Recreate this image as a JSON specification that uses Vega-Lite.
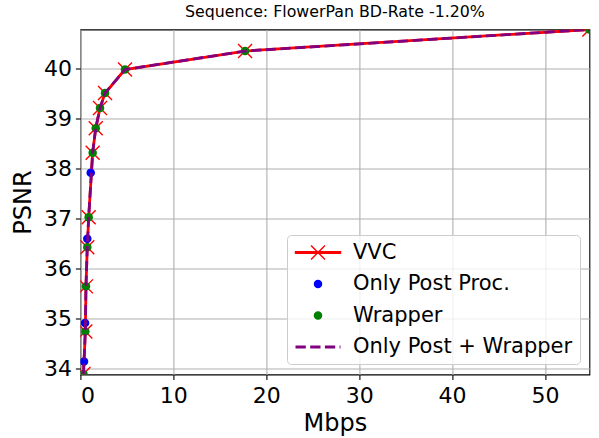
{
  "$schema": "https://vega.github.io/schema/vega-lite/v6.json",
  "width": 509,
  "height": 345,
  "autosize": "none",
  "padding": {"left": 80.4, "top": 29.5, "right": 9.6, "bottom": 63.5},
  "title": {"text": "Sequence: FlowerPan BD-Rate -1.20%", "font": "DejaVu Sans", "fontSize": 15.8, "fontWeight": "normal", "color": "black", "anchor": "middle", "offset": 9},
  "config": {
    "font": "DejaVu Sans",
    "view": {"stroke": "black", "strokeWidth": 1.1},
    "axis": {"labelFont": "DejaVu Sans", "labelFontSize": 22, "labelColor": "black", "titleFont": "DejaVu Sans", "titleFontSize": 24, "titleFontWeight": "normal", "titleColor": "black", "tickColor": "black", "tickSize": 5, "tickWidth": 1.1, "domain": false, "grid": true, "gridColor": "#b0b0b0", "gridWidth": 1.1, "labelPadding": 4}
  },
  "datasets": {
    "vvc": [
      {"series": "VVC", "mbps": 0.33, "psnr": 33.9},
      {"series": "VVC", "mbps": 0.53, "psnr": 34.75},
      {"series": "VVC", "mbps": 0.6, "psnr": 35.65},
      {"series": "VVC", "mbps": 0.74, "psnr": 36.43},
      {"series": "VVC", "mbps": 0.89, "psnr": 37.03},
      {"series": "VVC", "mbps": 1.32, "psnr": 38.32},
      {"series": "VVC", "mbps": 1.65, "psnr": 38.81},
      {"series": "VVC", "mbps": 2.11, "psnr": 39.21},
      {"series": "VVC", "mbps": 2.65, "psnr": 39.51},
      {"series": "VVC", "mbps": 4.8, "psnr": 39.98},
      {"series": "VVC", "mbps": 17.72, "psnr": 40.35},
      {"series": "VVC", "mbps": 54.78, "psnr": 40.78}
    ],
    "post": [
      {"series": "Only Post Proc.", "mbps": 0.39, "psnr": 34.15},
      {"series": "Only Post Proc.", "mbps": 0.5, "psnr": 34.92},
      {"series": "Only Post Proc.", "mbps": 0.74, "psnr": 36.6},
      {"series": "Only Post Proc.", "mbps": 1.11, "psnr": 37.92}
    ],
    "wrapper": [
      {"series": "Wrapper", "mbps": 0.33, "psnr": 33.9},
      {"series": "Wrapper", "mbps": 0.53, "psnr": 34.75},
      {"series": "Wrapper", "mbps": 0.6, "psnr": 35.65},
      {"series": "Wrapper", "mbps": 0.74, "psnr": 36.43},
      {"series": "Wrapper", "mbps": 0.89, "psnr": 37.03},
      {"series": "Wrapper", "mbps": 1.32, "psnr": 38.32},
      {"series": "Wrapper", "mbps": 1.65, "psnr": 38.81},
      {"series": "Wrapper", "mbps": 2.11, "psnr": 39.21},
      {"series": "Wrapper", "mbps": 2.65, "psnr": 39.51},
      {"series": "Wrapper", "mbps": 4.8, "psnr": 39.98},
      {"series": "Wrapper", "mbps": 17.72, "psnr": 40.35},
      {"series": "Wrapper", "mbps": 54.78, "psnr": 40.78}
    ],
    "both": [
      {"series": "Only Post + Wrapper", "mbps": 0.33, "psnr": 33.9},
      {"series": "Only Post + Wrapper", "mbps": 0.53, "psnr": 34.75},
      {"series": "Only Post + Wrapper", "mbps": 0.6, "psnr": 35.65},
      {"series": "Only Post + Wrapper", "mbps": 0.74, "psnr": 36.43},
      {"series": "Only Post + Wrapper", "mbps": 0.89, "psnr": 37.03},
      {"series": "Only Post + Wrapper", "mbps": 1.32, "psnr": 38.32},
      {"series": "Only Post + Wrapper", "mbps": 1.65, "psnr": 38.81},
      {"series": "Only Post + Wrapper", "mbps": 2.11, "psnr": 39.21},
      {"series": "Only Post + Wrapper", "mbps": 2.65, "psnr": 39.51},
      {"series": "Only Post + Wrapper", "mbps": 4.8, "psnr": 39.98},
      {"series": "Only Post + Wrapper", "mbps": 17.72, "psnr": 40.35},
      {"series": "Only Post + Wrapper", "mbps": 54.78, "psnr": 40.78}
    ]
  },
  "encoding": {
    "x": {"field": "mbps", "type": "quantitative", "scale": {"domain": [0, 54.78], "nice": false, "zero": false}, "axis": {"values": [0, 10, 20, 30, 40, 50], "title": "Mbps", "labelPadding": 6, "titlePadding": 5}},
    "y": {"field": "psnr", "type": "quantitative", "scale": {"domain": [33.89, 40.78], "nice": false, "zero": false}, "axis": {"values": [34, 35, 36, 37, 38, 39, 40], "title": "PSNR", "titlePadding": 8}}
  },
  "layer": [
    {
      "data": {"name": "vvc"},
      "mark": {"type": "line", "strokeWidth": 2.8, "clip": true},
      "encoding": {
        "color": {
          "field": "series", "type": "nominal",
          "scale": {"domain": ["VVC", "Only Post Proc.", "Wrapper", "Only Post + Wrapper"], "range": ["#ff0000", "#0000ff", "#008000", "#800080"]},
          "legend": {
            "orient": "none", "legendX": 206.6, "legendY": 205.5, "title": null,
            "symbolSize": 506, "symbolOffset": 13.5, "labelOffset": 24.4,
            "labelFont": "DejaVu Sans", "labelFontSize": 21, "labelColor": "black", "labelLimit": 400,
            "padding": 7, "rowPadding": 9.5,
            "fillColor": "rgba(255,255,255,0.8)", "strokeColor": "#cccccc", "cornerRadius": 4,
            "encode": {
              "symbols": {
                "update": {
                  "shape": {"signal": "datum.value === 'VVC' ? 'M-2,-0.062L2,-0.062L2,0.062L-2,0.062Z M-0.62,-0.62L0.62,0.62M-0.62,0.62L0.62,-0.62' : datum.value === 'Only Post + Wrapper' ? 'M-2,-0.124L-1.084,-0.124L-1.084,0.124L-2,0.124Z M-0.693,-0.124L0.222,-0.124L0.222,0.124L-0.693,0.124Z M0.613,-0.124L1.529,-0.124L1.529,0.124L0.613,0.124Z M1.92,-0.124L2,-0.124L2,0.124L1.92,0.124Z' : 'M-0.378,0A0.378,0.378,0,1,1,0.378,0A0.378,0.378,0,1,1,-0.378,0Z'"},
                  "fill": {"signal": "datum.value === 'VVC' ? '#ff0000' : datum.value === 'Only Post Proc.' ? '#0000ff' : datum.value === 'Wrapper' ? '#008000' : '#800080'"},
                  "stroke": {"signal": "datum.value === 'VVC' ? '#ff0000' : 'transparent'"},
                  "strokeWidth": {"signal": "datum.value === 'VVC' ? 1.4 : 0"},
                  "size": {"value": 506},
                  "y": {"value": 10.5},
                  "opacity": {"value": 1}
                }
              },
              "labels": {
                "update": {
                  "y": {"value": 10.5}
                }
              }
            }
          }
        }
      }
    },
    {
      "data": {"name": "vvc"},
      "mark": {"type": "point", "shape": "M-1,-1L1,1M-1,1L1,-1", "filled": false, "color": "#ff0000", "strokeWidth": 1.4, "size": 196, "opacity": 1, "clip": true}
    },
    {
      "data": {"name": "post"},
      "mark": {"type": "point", "shape": "circle", "filled": true, "color": "#0000ff", "size": 72, "opacity": 1, "clip": true}
    },
    {
      "data": {"name": "wrapper"},
      "mark": {"type": "point", "shape": "circle", "filled": true, "color": "#008000", "size": 72, "opacity": 1, "clip": true}
    },
    {
      "data": {"name": "both"},
      "mark": {"type": "line", "color": "#800080", "strokeWidth": 2.8, "strokeDash": [10.3, 4.4], "clip": true}
    }
  ]
}
